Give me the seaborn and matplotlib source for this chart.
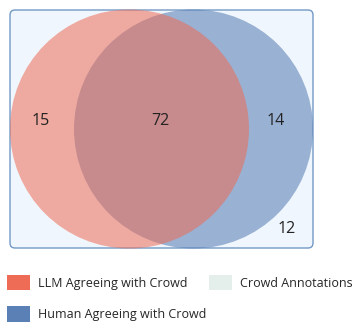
import matplotlib.pyplot as plt
import seaborn as sns
from matplotlib.patches import Circle, FancyBboxPatch, Patch

# region counts
region_names = ["LLM only", "Both", "Human only", "Neither"]
region_counts = [15, 72, 14, 12]
legend_labels = ["LLM Agreeing with Crowd", "Human Agreeing with Crowd", "Crowd Annotations"]
legend_colors = ["#EE6C55", "#5A80B5", "#E4EFEC"]

sns.set_theme(style="white")
plt.rcParams["font.family"] = ["Open Sans", "DejaVu Sans"]

fig = plt.figure(figsize=(3.53, 3.22), dpi=100)
ax = fig.add_axes([0, 0, 1, 1])
ax.set_xlim(0, 353)
ax.set_ylim(322, 0)
ax.axis("off")

# crowd box
box = FancyBboxPatch((10, 10), 303, 238, boxstyle="round,pad=0,rounding_size=5",
                     facecolor="#F0F6FD", edgecolor="#7399C6", linewidth=1.0)
ax.add_patch(box)

# circles
ax.add_patch(Circle((193.5, 129), 119.5, facecolor="#5A80B5", alpha=0.58, edgecolor="none"))
ax.add_patch(Circle((129.5, 129), 119.5, facecolor="#EE6C55", alpha=0.55, edgecolor="none"))

label_pos = [(41, 121), (160, 121), (276, 121), (287, 229)]
for (x, y), v in zip(label_pos, region_counts):
    ax.text(x, y, str(v), ha="center", va="center", fontsize=11.5, color="#222222")

handles = [Patch(facecolor=c, edgecolor="none") for c in legend_colors]
ax.legend(handles, legend_labels, ncol=2, loc="upper left",
          bbox_to_anchor=(0.02, 0.146), frameon=False, fontsize=9,
          handlelength=1.8, handleheight=1.5, handletextpad=0.65,
          columnspacing=0.25, labelspacing=1.3, borderaxespad=0, borderpad=0)

plt.savefig("out.png", dpi=100)
